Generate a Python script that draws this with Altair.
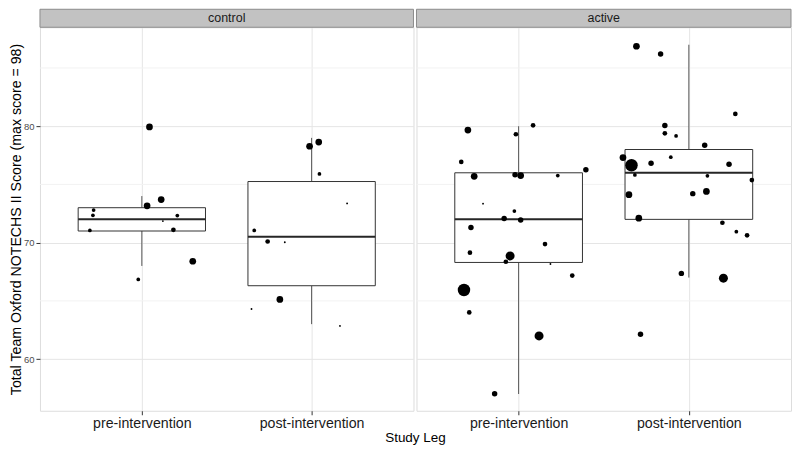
import altair as alt
import pandas as pd

groups = ["control", "active"]
legs = ["pre-intervention", "post-intervention"]
major_ticks = [60, 70, 80]
minor_ticks = [65, 75, 85]

# Box statistics (group, leg index 1/2)
box_group = ["control", "control", "active", "active"]
box_leg = [1, 2, 1, 2]
box_low = [68, 63, 57, 67]
box_q1 = [71, 66.3, 68.3, 72]
box_med = [72, 70.5, 72, 76]
box_q3 = [73, 75.25, 76, 78]
box_high = [74, 79, 80, 87]

# Jittered observations: jitter offset (leg units), score, weight level
ctrl_pre_jit = [0.045, 0.114, 0.031, -0.284, -0.288, 0.209, 0.124, -0.306, 0.186, 0.300, -0.021]
ctrl_pre_score = [79.94, 73.7, 73.16, 72.8, 72.35, 72.33, 71.85, 71.05, 71.1, 68.4, 66.84]
ctrl_pre_w = [5, 5, 5, 2, 2, 2, 1, 2, 3, 5, 2]

ctrl_post_jit = [0.042, -0.012, 0.046, 0.209, -0.338, -0.259, -0.158, -0.187, -0.354, 0.167]
ctrl_post_score = [78.64, 78.28, 75.9, 73.37, 71.05, 70.1, 70.03, 65.12, 64.3, 62.85]
ctrl_post_w = [5, 5, 2, 1, 2, 3, 1, 5, 1, 1]

act_pre_jit = [-0.298, 0.085, -0.016, -0.337, 0.395, -0.261, -0.021, 0.012, 0.230, -0.209,
               -0.025, -0.085, 0.012, -0.280, 0.155, -0.286, -0.050, -0.075, 0.187, 0.315,
               -0.321, -0.290, 0.120, -0.141]
act_pre_score = [79.67, 80.08, 79.31, 76.93, 76.26, 75.7, 75.84, 75.76, 75.76, 73.35,
                 72.71, 72.08, 71.94, 71.3, 69.88, 69.14, 68.86, 68.36, 68.17, 67.17,
                 65.93, 64.01, 61.99, 57.03]
act_pre_w = [5, 3, 3, 3, 4, 5, 4, 5, 2, 1,
             2, 4, 4, 4, 3, 3, 6, 3, 1, 3,
             7, 3, 6, 4]

act_post_jit = [-0.308, -0.166, 0.273, -0.141, -0.141, -0.075, 0.093, -0.387, -0.106, -0.337,
                -0.222, 0.236, -0.317, 0.109, 0.370, -0.352, 0.023, 0.103, -0.294, 0.197,
                0.279, 0.342, -0.044, 0.203, -0.284]
act_post_score = [86.87, 86.2, 81.06, 80.06, 79.39, 79.17, 78.36, 77.31, 77.34, 76.65,
                  76.82, 76.73, 75.82, 75.74, 75.37, 74.12, 74.21, 74.4, 72.1, 71.71,
                  70.94, 70.63, 67.36, 66.95, 62.13]
act_post_w = [5, 4, 3, 4, 3, 2, 4, 5, 2, 7,
              4, 4, 2, 2, 3, 5, 4, 5, 5, 3,
              2, 3, 4, 6, 4]

weight_levels = [1, 2, 3, 4, 5, 6, 7]

rows = []
for g, leg, jit, sc, w in [
    ("control", 1, ctrl_pre_jit, ctrl_pre_score, ctrl_pre_w),
    ("control", 2, ctrl_post_jit, ctrl_post_score, ctrl_post_w),
    ("active", 1, act_pre_jit, act_pre_score, act_pre_w),
    ("active", 2, act_post_jit, act_post_score, act_post_w),
]:
    for j, s, ww in zip(jit, sc, w):
        rows.append({"group": g, "pos": leg + j, "score": s, "w": ww})
pts_df = pd.DataFrame(rows)

box_df = pd.DataFrame({
    "group": box_group, "leg": box_leg, "low": box_low, "q1": box_q1,
    "med": box_med, "q3": box_q3, "high": box_high,
})
box_df["left"] = box_df["leg"] - 0.375
box_df["right"] = box_df["leg"] + 0.375

FONT = "Liberation Sans"
H = 384
WIDTHS = {"control": 374, "active": 375}
xscale = alt.Scale(domain=[0.4, 2.6], nice=False, zero=False)
yscale = alt.Scale(domain=[55.56, 88.5], nice=False, zero=False)
label_expr = "datum.value == 1 ? '%s' : '%s'" % (legs[0], legs[1])


def panel(g, first):
    W = WIDTHS[g]
    xaxis = alt.Axis(values=[1, 2], labelExpr=label_expr, grid=True, gridColor="#E5E5E5",
                     domain=False, tickColor="#333333", tickSize=4, labelPadding=2,
                     labelFont=FONT, labelFontSize=14.2, labelColor="#1A1A1A",
                     title="Study Leg" if first else "",
                     titleFont=FONT, titleFontSize=13.5, titleFontWeight="normal",
                     titleColor="#000000", titlePadding=0,
                     titleX=W + 1.5, titleAlign="center")
    if first:
        yaxis = alt.Axis(values=major_ticks, grid=True, gridColor="#E5E5E5", domain=False,
                         tickColor="#333333", tickSize=4, labelPadding=2,
                         labelFont=FONT, labelFontSize=9.5, labelColor="#4D4D4D",
                         title="Total Team Oxford NOTECHS II Score (max score = 98)",
                         titleFont=FONT, titleFontSize=14.2, titleFontWeight="normal",
                         titleColor="#000000", titlePadding=0)
    else:
        yaxis = alt.Axis(values=major_ticks, grid=True, gridColor="#E5E5E5", domain=False,
                         ticks=False, labels=False, title="")

    minor = alt.Chart(pd.DataFrame({"v": minor_ticks})).mark_rule(
        color="#F2F2F2", strokeWidth=1).encode(
        y=alt.Y("v:Q", scale=yscale, axis=yaxis))

    b = alt.Chart(box_df[box_df.group == g])
    whisk_lo = b.mark_rule(color="#555555", strokeWidth=1).encode(
        x=alt.X("leg:Q", scale=xscale, axis=xaxis),
        y=alt.Y("low:Q", scale=yscale, axis=yaxis), y2="q1:Q")
    whisk_hi = b.mark_rule(color="#555555", strokeWidth=1).encode(
        x=alt.X("leg:Q", scale=xscale, axis=xaxis),
        y=alt.Y("q3:Q", scale=yscale, axis=yaxis), y2="high:Q")
    boxes = b.mark_rect(fill="white", stroke="#333333", strokeWidth=1).encode(
        x=alt.X("left:Q", scale=xscale, axis=xaxis), x2="right:Q",
        y=alt.Y("q1:Q", scale=yscale, axis=yaxis), y2="q3:Q")
    median = b.mark_rule(color="#262626", strokeWidth=2).encode(
        x=alt.X("left:Q", scale=xscale, axis=xaxis), x2="right:Q",
        y=alt.Y("med:Q", scale=yscale, axis=yaxis))

    points = alt.Chart(pts_df[pts_df.group == g]).mark_circle(
        color="black", opacity=1).encode(
        x=alt.X("pos:Q", scale=xscale, axis=xaxis),
        y=alt.Y("score:Q", scale=yscale, axis=yaxis),
        size=alt.Size("w:Q", scale=alt.Scale(type="linear", domain=weight_levels,
                                             range=[3.5, 14, 22, 30, 45, 81, 156]),
                      legend=None))

    sdf = pd.DataFrame({"g": [g]})
    strip = alt.Chart(sdf).mark_rect(fill="#C2C2C2", stroke="#8C8C8C", strokeWidth=1).encode(
        x=alt.value(0), x2=alt.value(W), y=alt.value(-18), y2=alt.value(0))
    strip_txt = alt.Chart(sdf).mark_text(font=FONT, fontSize=12.5, color="#1A1A1A",
                                         baseline="middle", align="center").encode(
        x=alt.value(W / 2), y=alt.value(-9), text="g:N")

    return alt.layer(minor, whisk_lo, whisk_hi, boxes, median, points,
                     strip, strip_txt).properties(width=W, height=H)


chart = alt.hconcat(panel("control", True), panel("active", False), spacing=3,
                    bounds="flush").properties(
    padding={"left": 0, "top": 0, "right": 0, "bottom": 0}
).configure_view(stroke="#8C8C8C", strokeWidth=1).configure(background="white")

chart.save("out.html", embed_options={"renderer": "svg", "actions": False})
